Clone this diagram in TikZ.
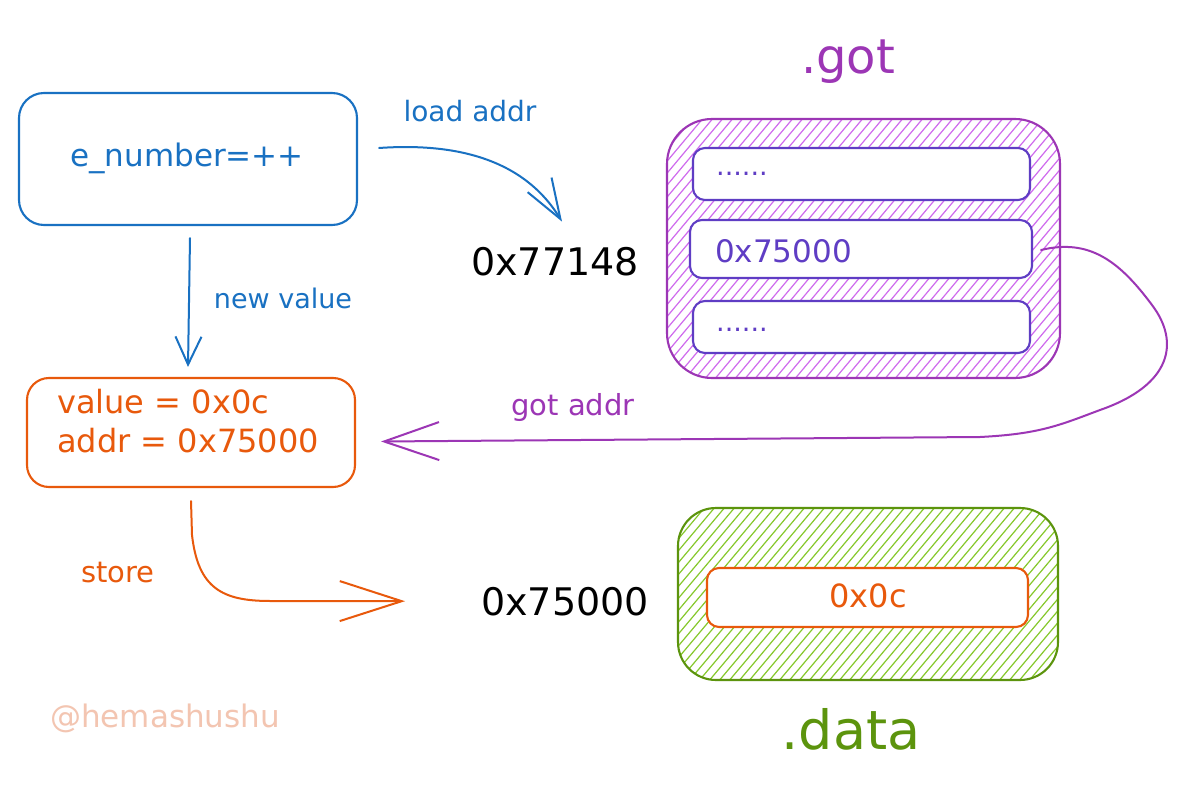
\documentclass[tikz,border=0pt]{standalone}
\usepackage{fontspec}
\setmainfont{DejaVu Sans}
\usetikzlibrary{arrows.meta,calc}
\definecolor{cblue}{HTML}{1971C2}
\definecolor{corange}{HTML}{E8590C}
\definecolor{cpurple}{HTML}{9C36B5}
\definecolor{cviolet}{HTML}{5F3DC4}
\definecolor{chatchp}{HTML}{CF6BEE}
\definecolor{cgreen}{HTML}{5C940D}
\definecolor{chatchg}{HTML}{86C82C}
\definecolor{cpeach}{HTML}{F3C5B1}
\newcommand\fsz[1]{\fontsize{#1}{#1}\selectfont}
\begin{document}
\begin{tikzpicture}[x=1pt,y=-1pt,
  box/.style={draw, line width=2.1pt, inner sep=0pt, rounded corners=#1},
  box/.default=12pt,
  txt/.style={inner sep=0pt, anchor=base},
  ltxt/.style={inner sep=0pt, anchor=base west},
  conn/.style={line width=2pt, line cap=round, line join=round},
  hatchP/.style={chatchp, line width=1.2pt},
  hatchG/.style={chatchg, line width=1.2pt}]
\useasboundingbox[fill=white] (0,0) rectangle (1187,789);

% ---- boxes ----
\node[box=45pt, cpurple, minimum width=393pt, minimum height=259pt,
  path picture={\foreach \x in {-420,-410,...,200}\draw[hatchP] (\x,132) -- ++(221,-264);}]
  (got) at (863.5,248.5) {};
\node[box=25pt, cblue, minimum width=338pt, minimum height=132pt] (code) at (188,159) {};
\node[box=22pt, corange, minimum width=328pt, minimum height=109pt] (mem) at (191,432.5) {};
\node[box, cviolet, fill=white, minimum width=337pt, minimum height=52pt] (g1) at (861.5,174) {};
\node[box, cviolet, fill=white, minimum width=342pt, minimum height=58pt] (g2) at (861,249) {};
\node[box, cviolet, fill=white, minimum width=337pt, minimum height=52pt] (g3) at (861.5,327) {};
\node[box=38pt, cgreen, minimum width=380pt, minimum height=172pt,
  path picture={\foreach \x in {-340,-330,...,200}\draw[hatchG] (\x,88) -- ++(148,-176);}]
  (data) at (868,594) {};
\node[box, corange, fill=white, minimum width=321pt, minimum height=59pt] (d1) at (867.5,597.5) {};

% ---- texts ----
\node[txt, cblue, font=\fsz{31}] (codetxt) at (187,167) {e\_number=++};
\node[ltxt, corange, font=\fsz{32}] (memv) at (57,413) {value = 0x0c};
\node[ltxt, corange, font=\fsz{32}] (mema) at (57,452) {addr = 0x75000};
\node[ltxt, cviolet, font=\fsz{27}] (g1t) at (716,176) {......};
\node[ltxt, cviolet, font=\fsz{31}] (g2t) at (715,262) {0x75000};
\node[ltxt, cviolet, font=\fsz{27}] (g3t) at (716,331) {......};
\node[txt, corange, font=\fsz{32}] (d1t) at (868,607) {0x0c};
\node[txt, cpurple, font=\fsz{48}] (gotlbl) at (848,74) {.got};
\node[txt, cgreen, font=\fsz{54}] (datalbl) at (851,749) {.data};
\node[txt, black, font=\fsz{38}] (a77148) at (555,275) {0x77148};
\node[txt, black, font=\fsz{38}] (a75000) at (565,615) {0x75000};
\node[txt, cblue, font=\fsz{28}] (lload) at (470,122) {load addr};
\node[txt, cblue, font=\fsz{27}] (lnew) at (283,308) {new value};
\node[txt, cpurple, font=\fsz{29}] (lgot) at (573,415) {got addr};
\node[txt, corange, font=\fsz{29}] (lstore) at (118,582) {store};
\node[txt, cpeach, font=\fsz{31}] (mark) at (165,727) {@hemashushu};

% ---- connectors ----
\draw[conn, cblue, -{Straight Barb[length=40pt,width=28pt]}]
  ($(code.east)+(21,-11)$) .. controls (450,143) and (522,156) .. ($(a77148.north)+(7,-25)$);
\draw[conn, cblue, -{Straight Barb[length=28pt,width=26pt]}]
  ($(code.south)+(2,12)$) -- ($(mem.north)+(-3,-10)$);
\draw[conn, cpurple, -{Straight Barb[length=55pt,width=38pt]}]
  ($(g2.east)+(8,1)$) .. controls (1090,238) and (1120,262) .. (1152,305)
  .. controls (1180,342) and (1172,385) .. (1100,410)
  .. controls (1060,425) and (1040,434) .. (980,437) -- ($(mem.east)+(25,9)$);
\draw[conn, corange, -{Straight Barb[length=62pt,width=40pt]}]
  ($(mem.south)+(0,13)$) -- (192,535) .. controls (198,588) and (222,601) .. (270,601)
  -- ($(a75000.west)+(-76,0)$);
\end{tikzpicture}
\end{document}
